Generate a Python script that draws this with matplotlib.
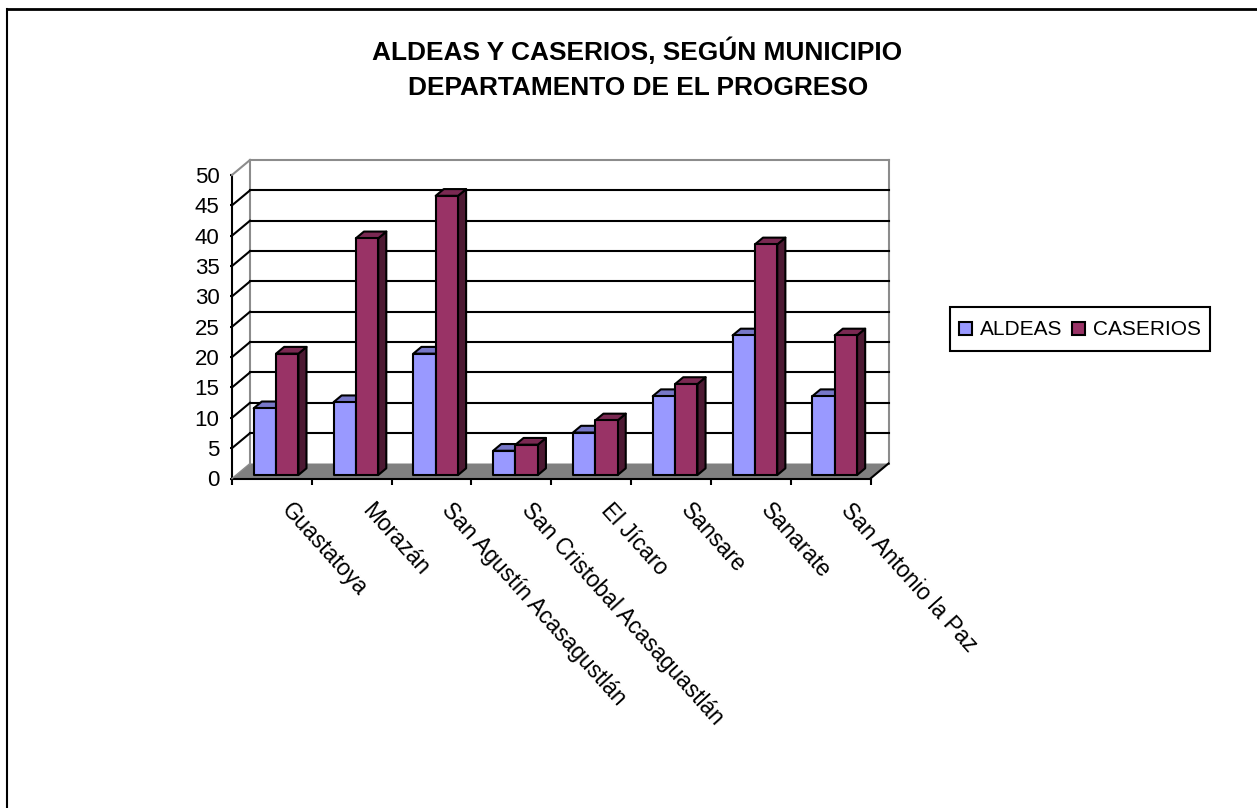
import matplotlib
matplotlib.use("Agg")
import matplotlib.pyplot as plt
from matplotlib.legend_handler import HandlerPatch
from matplotlib.patches import Patch, Rectangle

plt.rcParams["font.family"] = ["Liberation Sans", "DejaVu Sans"]

# ── Data ──────────────────────────────────────────────────────────────
municipios = [
    "Guastatoya",
    "Morazán",
    "San Agustín Acasagustlán",
    "San Cristobal Acasaguastlán",
    "El Jícaro",
    "Sansare",
    "Sanarate",
    "San Antonio la Paz",
]
aldeas = [11, 12, 20, 4, 7, 13, 23, 13]
caserios = [20, 39, 46, 5, 9, 15, 38, 23]
y_ticks = list(range(0, 55, 5))

W, H = 1257, 808
LEFT, RIGHT, TOP, BOTTOM = 232, 870.5, 175, 478.5

# depth of the fake 3D box, in data units
DX = 18 / ((RIGHT - LEFT) / len(municipios))
DY = 15 / ((BOTTOM - TOP) / 50)

BAR_W = 0.28
BAR_Z0, BAR_Z1 = 0.23, 0.68

BLUE, BLUE_TOP = "#9999FF", "#7777C8"
WINE, WINE_TOP, WINE_SIDE = "#993366", "#7A2952", "#4D1A33"
GRID_GREY = "#8C8C8C"
FLOOR = "#808080"


def pt(x, y, z=0.0):
    """Oblique projection: z=0 is the front plane, z=1 the back wall."""
    return x + z * DX, y + z * DY


def poly(ax, corners, color, zorder, edge="none", lw=0.0):
    xs, ys = zip(*corners)
    ax.fill(xs, ys, facecolor=color, edgecolor=edge, lw=lw, zorder=zorder,
            clip_on=False, joinstyle="round")


def line(ax, a, b, color="black", lw=1.5, zorder=2):
    ax.plot([a[0], b[0]], [a[1], b[1]], color=color, lw=lw, zorder=zorder,
            clip_on=False, solid_capstyle="projecting")


def bar3d(ax, x, value, front, top, side, zorder):
    x0, x1 = x, x + BAR_W
    z0, z1 = BAR_Z0, BAR_Z1
    poly(ax, [pt(x1, 0, z0), pt(x1, 0, z1), pt(x1, value, z1), pt(x1, value, z0)],
         side, zorder, "black", 1.5)
    poly(ax, [pt(x0, value, z0), pt(x0, value, z1), pt(x1, value, z1), pt(x1, value, z0)],
         top, zorder, "black", 1.5)
    poly(ax, [pt(x0, 0, z0), pt(x1, 0, z0), pt(x1, value, z0), pt(x0, value, z0)],
         front, zorder, "black", 1.5)


def small_square(legend, orig_handle, xdescent, ydescent, width, height, fontsize):
    # square swatch centred in a taller legend row
    return Rectangle((-xdescent, -ydescent + (height - width) / 2), width, width)


fig = plt.figure(figsize=(W / 100, H / 100), dpi=100)
ax = fig.add_axes([LEFT / W, 1 - BOTTOM / H, (RIGHT - LEFT) / W, (BOTTOM - TOP) / H])
n = len(municipios)
ax.set_xlim(0, n)
ax.set_ylim(0, 50)
ax.patch.set_visible(False)
for name in ("top", "right"):
    ax.spines[name].set_visible(False)
for name in ("left", "bottom"):
    ax.spines[name].set_linewidth(1.5)
    ax.spines[name].set_zorder(1.5)

# ── Walls and floor ───────────────────────────────────────────────────
poly(ax, [pt(0, 0), pt(n, 0), pt(n, 0, 1), pt(0, 0, 1)], FLOOR, 1)
for v in y_ticks[1:-1]:
    line(ax, pt(0, v, 1), pt(n, v, 1))
    line(ax, pt(0, v, 0), pt(0, v, 1))
line(ax, pt(n, 0, 0), pt(n, 0, 1))
line(ax, pt(0, 0, 0), pt(0, 0, 1), GRID_GREY, lw=1.0, zorder=1.8)
line(ax, pt(0, 50, 0), pt(0, 50, 1), GRID_GREY, zorder=1.8)
line(ax, pt(0, 50, 1), pt(n, 50, 1), GRID_GREY, zorder=1.8)
line(ax, pt(0, 0, 1), pt(0, 50, 1), GRID_GREY, zorder=1.8)
line(ax, pt(n, 0, 1), pt(n, 50, 1), GRID_GREY, zorder=1.8)

# ── Bars ──────────────────────────────────────────────────────────────
for i, (a, c) in enumerate(zip(aldeas, caserios)):
    start = i + (1 - 2 * BAR_W) / 2
    bar3d(ax, start, a, BLUE, BLUE_TOP, WINE_SIDE, 3 + i * 0.1)
    bar3d(ax, start + BAR_W, c, WINE, WINE_TOP, WINE_SIDE, 3.05 + i * 0.1)

# ── Axes ──────────────────────────────────────────────────────────────
ax.set_yticks(y_ticks)
ax.set_xticks(range(n + 1))
ax.set_xticklabels([])
ax.tick_params(axis="y", length=1.5, width=1.5, labelsize=16, pad=7.5)
ax.tick_params(axis="x", length=4.5, width=1.5)

for i, name in enumerate(municipios):
    ax.annotate(name, xy=(i + 0.5, 0), xytext=(14, -28), textcoords="offset pixels",
                rotation=-48, rotation_mode="anchor", ha="left", va="center",
                fontsize=16.3, annotation_clip=False)

# ── Title, legend, frame ──────────────────────────────────────────────
fig.text(637 / W, 1 - 51 / H, "ALDEAS Y CASERIOS, SEGÚN MUNICIPIO",
         ha="center", va="center", fontsize=18.9, fontweight="bold")
fig.text(638 / W, 1 - 88 / H, "DEPARTAMENTO DE EL PROGRESO",
         ha="center", va="center", fontsize=18.9, fontweight="bold")

handles = [Patch(facecolor=BLUE, edgecolor="black", lw=1.5),
           Patch(facecolor=WINE, edgecolor="black", lw=1.5)]
leg = fig.legend(handles, ["ALDEAS", "CASERIOS"], ncol=2, loc="center",
                 bbox_to_anchor=(1080 / W, 1 - 328.7 / H), fontsize=15,
                 fancybox=False, framealpha=1, edgecolor="black",
                 handlelength=0.62, handleheight=1.67, handletextpad=0.4,
                 columnspacing=0.45, borderpad=0.4, borderaxespad=0,
                 handler_map={Patch: HandlerPatch(patch_func=small_square)})
leg.get_frame().set_linewidth(1.5)

fig.add_artist(plt.Line2D([7 / W, 7 / W], [0, 1 - 9 / H], color="black", lw=1.5))
fig.add_artist(plt.Line2D([7 / W, 1], [1 - 9.3 / H, 1 - 9.3 / H], color="black", lw=2))

fig.savefig("out.png", dpi=100)
